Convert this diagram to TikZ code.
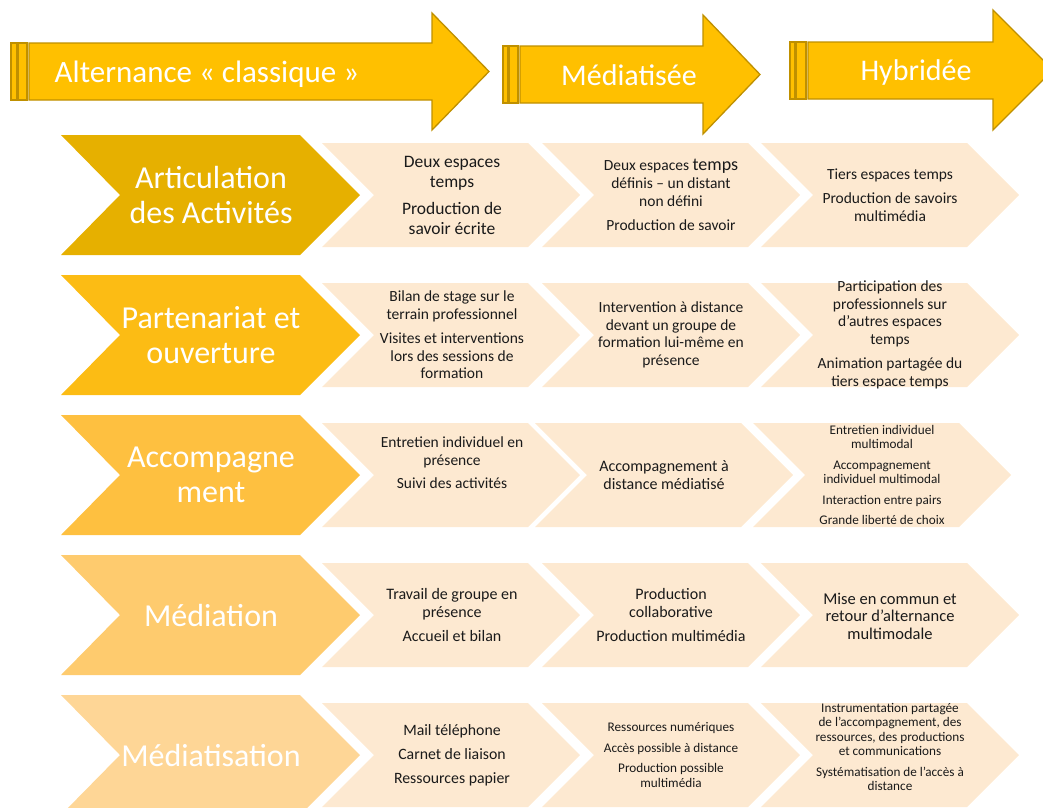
\documentclass[tikz,border=0pt]{standalone}
\usepackage{fontspec}
\setmainfont{Carlito}
\definecolor{hfill}{HTML}{FFC000}
\definecolor{hdraw}{HTML}{BF9000}
\definecolor{dA}{HTML}{E6B000}
\definecolor{dB}{HTML}{FCBC14}
\definecolor{dC}{HTML}{FEC040}
\definecolor{dD}{HTML}{FECB6E}
\definecolor{dE}{HTML}{FED696}
\definecolor{peach}{HTML}{FDE9D1}
\definecolor{txt}{HTML}{1A1A1A}
\tikzset{
  harrow/.style={fill=hfill, draw=hdraw, line width=1.3pt, line join=miter},
  htext/.style={text=white, font=\fontsize{30}{34}\selectfont, inner sep=0pt},
  ltext/.style={text=white, font=\fontsize{32}{35}\selectfont, align=center, inner sep=0pt},
  ctext/.style={text=txt, align=center, inner sep=0pt},
  lightchev/.style={fill=peach},
}
\newcommand{\LChev}[2]{\fill[lightchev] (#1,#2) -- ++(206,0) -- ++(52,52) -- ++(-52,52) -- ++(-206,0) -- ++(52,-52) -- cycle;}
\newcommand{\DChev}[2]{\fill[#2] (61,#1) -- (300,#1) -- ++(60,60) -- ++(-60,60) -- (61,#1+120) -- ++(59,-60) -- cycle;}
\begin{document}
\begin{tikzpicture}[x=1pt,y=-1pt]
\useasboundingbox (0,0) rectangle (1043,807);
\clip (0,0) rectangle (1043,807);
% header arrows
\draw[harrow] (11,43) rectangle (17,100);
\draw[harrow] (18,43) rectangle (27,100);
\draw[harrow] (29,43) -- (432,43) -- (432,13) -- (489,71.5) -- (432,130) -- (432,100) -- (29,100) -- cycle;
\node[htext, font=\fontsize{31}{34}\selectfont] (h1) at (207,74) {Alternance « classique »};
\draw[harrow] (503,46) rectangle (508,103);
\draw[harrow] (509,46) rectangle (518,103);
\draw[harrow] (520,46) -- (703,46) -- (703,15) -- (760,74.5) -- (703,134) -- (703,103) -- (520,103) -- cycle;
\node[htext] (h2) at (629,75) {Médiatisée};
\draw[harrow] (790,42) rectangle (795,99);
\draw[harrow] (796,42) rectangle (806,99);
\draw[harrow] (808,42) -- (993,42) -- (993,10) -- (1053,70) -- (993,130) -- (993,99) -- (808,99) -- cycle;
\node[htext] (h3) at (916,72) {Hybridée};
% dark chevrons
\DChev{135}{dA}
\DChev{275}{dB}
\DChev{415}{dC}
\DChev{555}{dD}
\DChev{695}{dE}
\node[ltext] (l1) at (211,195) {Articulation\\des Activités};
\node[ltext] (l2) at (211,335) {Partenariat et\\ouverture};
\node[ltext] (l3) at (211,475) {Accompagne\\ment};
\node[ltext] (l4) at (211,615) {Médiation};
\node[ltext] (l5) at (211,755) {Médiatisation};
% light chevrons
\LChev{322}{143}\LChev{542}{143}\LChev{761}{143}
\LChev{322}{283}\LChev{542}{283}\LChev{761}{283}
\LChev{322}{423}\LChev{535}{423}\LChev{753}{423}
\LChev{322}{563}\LChev{542}{563}\LChev{761}{563}
\LChev{322}{703}\LChev{542}{703}\LChev{761}{703}
% row 1
\node[ctext, font=\fontsize{17.5}{20}\selectfont] (t11) at (452,195) {Deux espaces\\temps\\[7pt]Production de\\savoir écrite};
\node[ctext, font=\fontsize{15.5}{18}\selectfont] (t12) at (671,195) {Deux espaces {\fontsize{18}{18}\selectfont temps}\\définis – un distant\\non défini\\[6pt]Production de savoir};
\node[ctext, font=\fontsize{15.5}{18}\selectfont] (t13) at (890,195) {Tiers espaces temps\\[6pt]Production de savoirs\\multimédia};
% row 2
\node[ctext, font=\fontsize{15.5}{17.5}\selectfont] (t21) at (452,335) {Bilan de stage sur le\\terrain professionnel\\[7pt]Visites et interventions\\lors des sessions de\\formation};
\node[ctext, font=\fontsize{15.5}{17.5}\selectfont] (t22) at (671,335) {Intervention à distance\\devant un groupe de\\formation lui-même en\\présence};
\node[ctext, font=\fontsize{15.5}{17.5}\selectfont] (t23) at (890,335) {Participation des\\professionnels sur\\d’autres espaces\\temps\\[7pt]Animation partagée du\\tiers espace temps};
% row 3
\node[ctext, font=\fontsize{15.5}{18}\selectfont] (t31) at (452,463) {Entretien individuel en\\présence\\[5pt]Suivi des activités};
\node[ctext, font=\fontsize{16}{18}\selectfont] (t32) at (664,475) {Accompagnement à\\distance médiatisé};
\node[ctext, font=\fontsize{13.2}{14.5}\selectfont] (t33) at (882,475) {Entretien individuel\\multimodal\\[6pt]Accompagnement\\individuel multimodal\\[6pt]Interaction entre pairs\\[6pt]Grande liberté de choix};
% row 4
\node[ctext, font=\fontsize{16}{18}\selectfont] (t41) at (452,615) {Travail de groupe en\\présence\\[6pt]Accueil et bilan};
\node[ctext, font=\fontsize{16}{18}\selectfont] (t42) at (671,615) {Production\\collaborative\\[6pt]Production multimédia};
\node[ctext, font=\fontsize{16.5}{17.5}\selectfont] (t43) at (890,616) {Mise en commun et\\retour d’alternance\\multimodale};
% row 5
\node[ctext, font=\fontsize{15.8}{18}\selectfont] (t51) at (452,755) {Mail téléphone\\[6pt]Carnet de liaison\\[6pt]Ressources papier};
\node[ctext, font=\fontsize{13.2}{14.5}\selectfont] (t52) at (671,755) {Ressources numériques\\[6pt]Accès possible à distance\\[6pt]Production possible\\multimédia};
\node[ctext, font=\fontsize{13.2}{14.5}\selectfont] (t53) at (890,747) {Instrumentation partagée\\de l’accompagnement, des\\ressources, des productions\\et communications\\[6pt]Systématisation de l’accès à\\distance};
\end{tikzpicture}
\end{document}
